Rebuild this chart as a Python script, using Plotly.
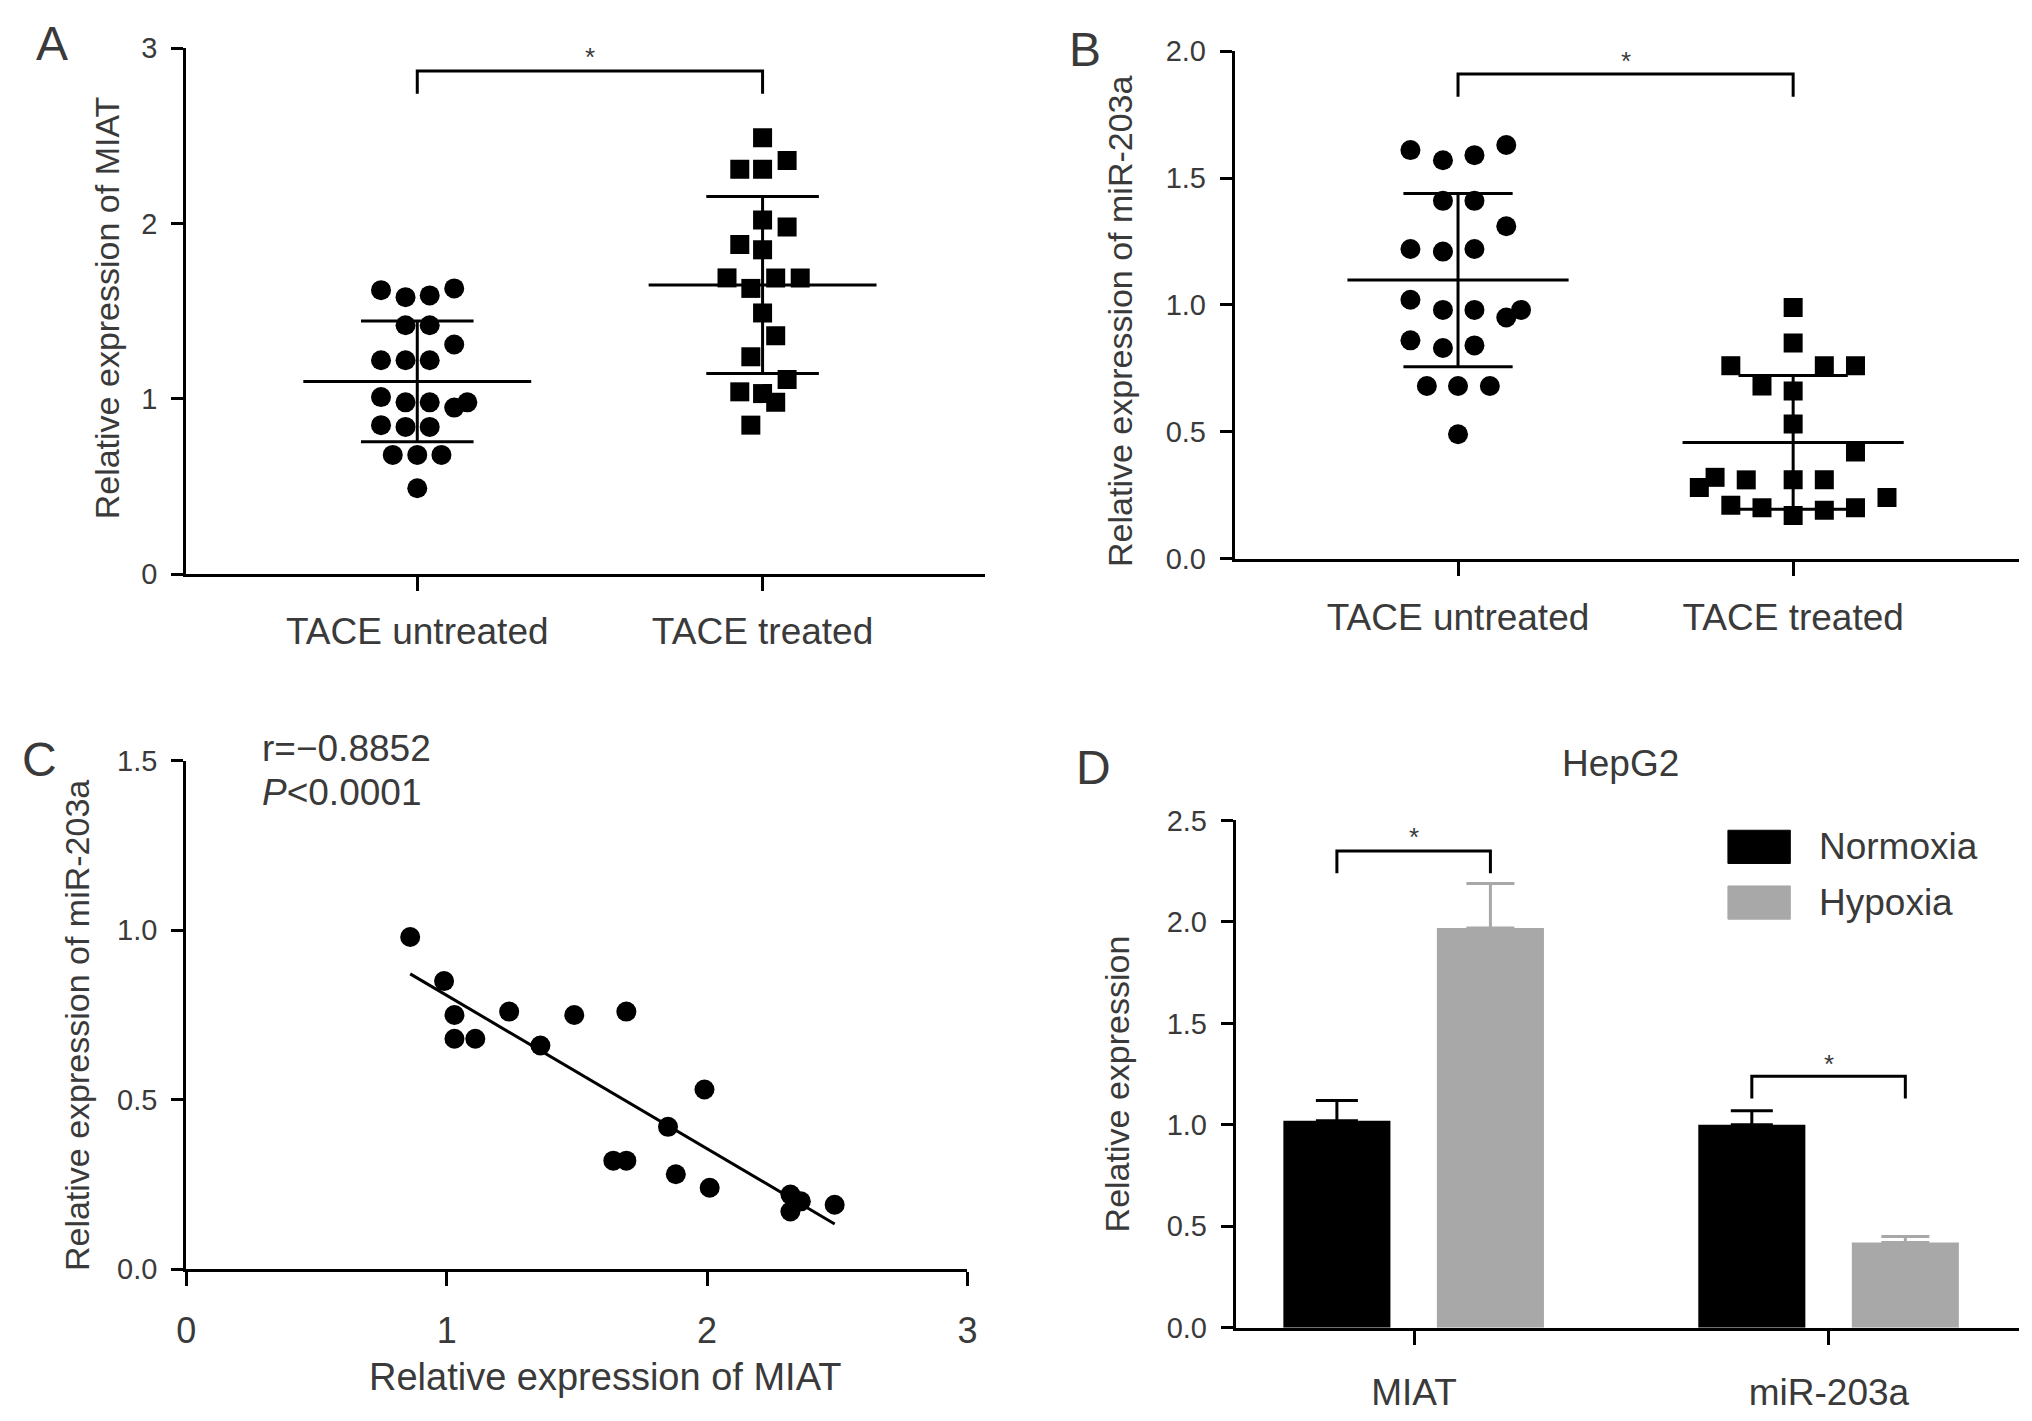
import numpy as np
import plotly.graph_objects as go

# ---- values ----
groups = ["TACE untreated", "TACE treated"]

# panel A: relative expression of MIAT
miat_untreated = [1.62, 1.58, 1.59, 1.63, 1.42, 1.42, 1.31, 1.22, 1.22, 1.22,
                  1.01, 0.98, 0.98, 0.98, 0.95, 0.85, 0.84, 0.84, 0.68, 0.68, 0.68, 0.49]
miat_untreated_jit = [-0.105, -0.034, 0.036, 0.107, -0.034, 0.036, 0.107, -0.105, -0.034, 0.036,
                      -0.105, -0.034, 0.036, 0.145, 0.107, -0.105, -0.034, 0.036, -0.071, 0, 0.07, 0]
miat_treated = [2.49, 2.31, 2.31, 2.36, 2.02, 1.98, 1.88, 1.85, 1.69, 1.69, 1.69, 1.63,
                1.49, 1.36, 1.24, 1.11, 1.04, 1.03, 0.98, 0.85]
miat_treated_jit = [0, -0.066, 0, 0.071, 0, 0.071, -0.066, 0, -0.103, 0.038, 0.109, -0.034,
                    0, 0.038, -0.034, 0.071, -0.066, 0, 0.038, -0.034]

# panel B: relative expression of miR-203a
mir_untreated = [1.61, 1.57, 1.59, 1.63, 1.41, 1.41, 1.31, 1.22, 1.21, 1.22,
                 1.02, 0.98, 0.98, 0.95, 0.98, 0.86, 0.83, 0.84, 0.68, 0.68, 0.68, 0.49]
mir_untreated_jit = [-0.142, -0.045, 0.049, 0.144, -0.045, 0.049, 0.144, -0.142, -0.045, 0.049,
                     -0.142, -0.045, 0.049, 0.144, 0.188, -0.142, -0.045, 0.049, -0.093, 0, 0.095, 0]
mir_treated = [0.99, 0.85, 0.76, 0.76, 0.76, 0.68, 0.66, 0.53, 0.42, 0.32,
               0.31, 0.31, 0.31, 0.28, 0.24, 0.21, 0.20, 0.17, 0.19, 0.20]
mir_treated_jit = [0, 0, -0.186, 0.093, 0.186, -0.093, 0, 0, 0.186, -0.233,
                   -0.14, 0, 0.093, -0.28, 0.28, -0.186, -0.093, 0, 0.093, 0.186]

# panel C: correlation
corr_miat = [0.86, 0.99, 1.03, 1.03, 1.11, 1.24, 1.36, 1.49, 1.69, 1.99,
             1.85, 1.64, 1.69, 1.88, 2.01, 2.32, 2.32, 2.36, 2.49]
corr_mir = [0.98, 0.85, 0.75, 0.68, 0.68, 0.76, 0.66, 0.75, 0.76, 0.53,
            0.42, 0.32, 0.32, 0.28, 0.24, 0.22, 0.17, 0.20, 0.19]

# panel D: HepG2
genes = ["MIAT", "miR-203a"]
normoxia = [1.02, 1.00]
normoxia_err = [0.10, 0.07]
hypoxia = [1.97, 0.42]
hypoxia_err = [0.22, 0.03]

TEXT = "#3a3a3a"
FONT = "Liberation Sans, Arial, sans-serif"
GREY = "#a8a8a8"

fig = go.Figure()


def dot_group(xa, ya, pos, vals, jit, symbol, size):
    fig.add_trace(go.Scatter(
        x=[pos + j for j in jit], y=vals, mode="markers",
        marker=dict(symbol=symbol, size=size, color="black", line=dict(width=0)),
        xaxis=xa, yaxis=ya, showlegend=False, hoverinfo="y"))
    # mean and SD lines
    m = np.mean(vals)
    s = np.std(vals, ddof=1)
    fig.add_trace(go.Scatter(
        x=[pos - 0.33, pos + 0.33, None, pos - 0.163, pos + 0.163, None,
           pos - 0.163, pos + 0.163, None, pos, pos],
        y=[m, m, None, m + s, m + s, None, m - s, m - s, None, m - s, m + s],
        mode="lines", line=dict(color="black", width=3),
        xaxis=xa, yaxis=ya, showlegend=False, hoverinfo="skip"))


def bracket(xa, ya, x0, x1, top, drop, star_y):
    fig.add_trace(go.Scatter(
        x=[x0, x0, x1, x1], y=[drop, top, top, drop], mode="lines",
        line=dict(color="black", width=3), xaxis=xa, yaxis=ya,
        showlegend=False, hoverinfo="skip"))
    fig.add_annotation(x=(x0 + x1) / 2, y=star_y, xref=xa, yref=ya, text="*",
                       showarrow=False, yanchor="middle",
                       font=dict(size=26, color=TEXT, family=FONT))


# A
dot_group("x", "y", 0, miat_untreated, miat_untreated_jit, "circle", 20)
dot_group("x", "y", 1, miat_treated, miat_treated_jit, "square", 19)
bracket("x", "y", 0, 1, 2.87, 2.74, 2.95)

# B
dot_group("x2", "y2", 0, mir_untreated, mir_untreated_jit, "circle", 20)
dot_group("x2", "y2", 1, mir_treated, mir_treated_jit, "square", 19)
bracket("x2", "y2", 0, 1, 1.91, 1.82, 1.96)

# C
fig.add_trace(go.Scatter(x=corr_miat, y=corr_mir, mode="markers",
                         marker=dict(size=20, color="black"),
                         xaxis="x3", yaxis="y3", showlegend=False))
slope, icept = np.polyfit(corr_miat, corr_mir, 1)
xl = np.array([min(corr_miat), max(corr_miat)])
fig.add_trace(go.Scatter(x=xl, y=slope * xl + icept, mode="lines",
                         line=dict(color="black", width=3),
                         xaxis="x3", yaxis="y3", showlegend=False, hoverinfo="skip"))

# D
bar_w = 0.258
fig.add_trace(go.Bar(x=[0, 1], y=normoxia, name="Normoxia", width=bar_w, offset=-0.315,
                     marker=dict(color="black", line=dict(width=0)),
                     error_y=dict(type="data", array=normoxia_err, symmetric=False,
                                  arrayminus=[0, 0], color="black", thickness=3, width=21),
                     xaxis="x4", yaxis="y4", showlegend=False))
fig.add_trace(go.Bar(x=[0, 1], y=hypoxia, name="Hypoxia", width=bar_w, offset=0.055,
                     marker=dict(color=GREY, line=dict(width=0)),
                     error_y=dict(type="data", array=hypoxia_err, symmetric=False,
                                  arrayminus=[0, 0], color=GREY, thickness=3, width=24),
                     xaxis="x4", yaxis="y4", showlegend=False))
c_n = -0.315 + bar_w / 2
c_h = 0.055 + bar_w / 2
bracket("x4", "y4", c_n, c_h, 2.35, 2.24, 2.42)
bracket("x4", "y4", 1 + c_n, 1 + c_h, 1.24, 1.13, 1.30)

W, H = 2032, 1421


def xdom(a, b):
    return [a / W, b / W]


def ydom(bottom, top):
    return [1 - bottom / H, 1 - top / H]


base = dict(showline=True, linecolor="black", linewidth=3, ticks="outside",
            tickwidth=3, tickcolor="black", showgrid=False, zeroline=False,
            fixedrange=True)
yfont = dict(size=29, color=TEXT, family=FONT)
xfont = dict(size=37, color=TEXT, family=FONT)

fig.update_layout(
    width=W, height=H, margin=dict(l=0, r=0, t=0, b=0),
    paper_bgcolor="white", plot_bgcolor="white", barmode="overlay",
    font=dict(family=FONT, color=TEXT),
    xaxis=dict(base, domain=xdom(178, 985), range=[-0.669, 1.645], anchor="y",
               tickvals=[0, 1], ticktext=groups, ticklen=14, tickfont=xfont,
               ticklabelstandoff=8),
    yaxis=dict(base, domain=ydom(571, 33), range=[0, 3], anchor="x",
               tickvals=[0, 1, 2, 3], ticklen=12, tickfont=yfont, ticklabelstandoff=8),
    xaxis2=dict(base, domain=xdom(1237, 2029), range=[-0.666, 1.674], anchor="y2",
                tickvals=[0, 1], ticktext=groups, ticklen=14, tickfont=xfont,
                ticklabelstandoff=10),
    yaxis2=dict(base, domain=ydom(555, 36), range=[0, 2], anchor="x2",
                tickvals=[0, 0.5, 1, 1.5, 2], tickformat=".1f", ticklen=12,
                tickfont=yfont, ticklabelstandoff=8),
    xaxis3=dict(base, domain=xdom(178, 967), range=[0, 3], anchor="y3",
                tickvals=[0, 1, 2, 3], ticklen=14, tickfont=dict(xfont, size=36),
                ticklabelstandoff=14),
    yaxis3=dict(base, domain=ydom(1282, 762), range=[0, 1.5], anchor="x3",
                tickvals=[0, 0.5, 1, 1.5], tickformat=".1f", ticklen=12,
                tickfont=yfont, ticklabelstandoff=8),
    xaxis4=dict(base, domain=xdom(1238, 2029), range=[-0.4296, 1.458], anchor="y4",
                tickvals=[0, 1], ticktext=genes, ticklen=14, tickfont=xfont,
                ticklabelstandoff=16),
    yaxis4=dict(base, domain=ydom(1342, 823), range=[0, 2.5], anchor="x4",
                tickvals=[0, 0.5, 1, 1.5, 2, 2.5], tickformat=".1f", ticklen=12,
                tickfont=yfont, ticklabelstandoff=8),
)


def label(x, y, text, size, angle=0, xanchor="center"):
    fig.add_annotation(x=x / W, y=1 - y / H, xref="paper", yref="paper", text=text,
                       showarrow=False, textangle=angle, xanchor=xanchor, yanchor="middle",
                       font=dict(size=size, color=TEXT, family=FONT))


# panel letters
label(42, 28, "A", 48)
label(1086, 34, "B", 48)
label(30, 761, "C", 48)
label(1094, 769, "D", 48)

# axis titles
label(98, 299, "Relative expression of MIAT", 34, -90)
label(1121, 312, "Relative expression of miR-203a", 34, -90)
label(67, 1033, "Relative expression of miR-203a", 34, -90)
label(601, 1392, "Relative expression of MIAT", 38)
label(1118, 1092, "Relative expression", 34, -90)

# C statistics, D title
label(252, 749, "r=\u22120.8852", 37, xanchor="left")
label(252, 794, "<i>P</i><0.0001", 37, xanchor="left")
label(1627, 765, "HepG2", 37)

# D legend
legend_items = [("Normoxia", "black", 850), ("Hypoxia", GREY, 907)]
for name, col, yc in legend_items:
    fig.add_shape(type="rect", xref="paper", yref="paper",
                  x0=1735 / W, x1=1798 / W, y0=1 - (yc + 17) / H, y1=1 - (yc - 17) / H,
                  fillcolor=col, line=dict(color=col, width=1))
    label(1825, yc, name, 37, xanchor="left")

fig.write_html("out.html", config={"displayModeBar": False},
               post_script="document.body.style.margin='0';")
